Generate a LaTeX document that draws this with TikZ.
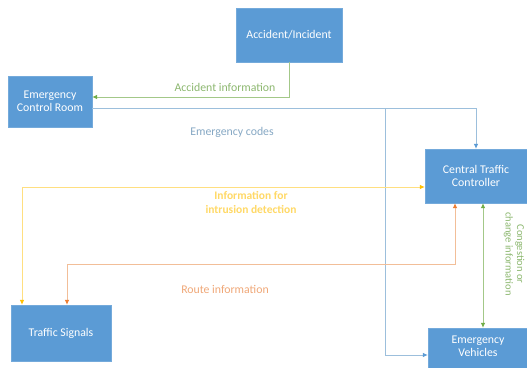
\documentclass[tikz,border=0pt]{standalone}
\usepackage{fontspec}
\setmainfont{Carlito}
\usetikzlibrary{arrows.meta}
\definecolor{boxblue}{HTML}{5B9BD5}
\definecolor{grnline}{HTML}{A3C888}
\definecolor{grntip}{HTML}{70AD47}
\definecolor{grntext}{HTML}{8DB870}
\definecolor{bluline}{HTML}{9CBFDC}
\definecolor{blutip}{HTML}{5B9BD5}
\definecolor{blutext}{HTML}{86A8C4}
\definecolor{yelline}{HTML}{FFDF80}
\definecolor{yeltip}{HTML}{FFC000}
\definecolor{yeltext}{HTML}{FFD966}
\definecolor{orgline}{HTML}{F2BE98}
\definecolor{orgtip}{HTML}{ED7D31}
\definecolor{orgtext}{HTML}{F0A878}
\tikzset{
  box/.style={fill=boxblue, draw=boxblue!85!white, text=white, align=center,
    font=\fontsize{11.8}{13.5}\selectfont, inner sep=0pt},
  conn/.style={line width=0.8pt},
  lbl/.style={font=\fontsize{11.8}{14}\selectfont, align=center, inner sep=0pt},
}
\begin{document}
\begin{tikzpicture}[x=1pt,y=-1pt]
\useasboundingbox (0,0) rectangle (527,367);
\clip (0,0) rectangle (527,367);
\fill[white] (0,0) rectangle (527,367);
% boxes
\node[box, minimum width=106pt, minimum height=54pt] (acc) at (289,35) {Accident/Incident};
\node[box, minimum width=84pt, minimum height=51pt] (ecr) at (50,101.5) {Emergency\\Control Room};
\node[box, minimum width=102pt, minimum height=54pt] (ctc) at (476,176) {Central Traffic\\Controller};
\node[box, minimum width=100pt, minimum height=56pt] (ts) at (61,333) {Traffic Signals};
\node[box, minimum width=100pt, minimum height=48pt, text depth=12pt] (ev) at (478,352) {Emergency\\Vehicles};
% accident information
\draw[conn, grnline, -{Latex[length=5pt,width=4.5pt,color=grntip]}] (acc.south) |- ([yshift=4.5pt]ecr.east);
\node[lbl, text=grntext] (lacc) at (225,87) {Accident information};
% emergency codes
\coordinate (br) at (385,108);
\draw[conn, bluline, -{Latex[length=5pt,width=4.5pt,color=blutip]}] ([yshift=-6.5pt]ecr.east) -| (ctc.north);
\draw[conn, bluline, -{Latex[length=5pt,width=4.5pt,color=blutip]}] (br) |- ([yshift=-3pt]ev.west);
\node[lbl, text=blutext] (lcodes) at (232,132) {Emergency codes};
% intrusion detection
\draw[conn, yelline, {Latex[length=5pt,width=4.5pt,color=yeltip]}-{Latex[length=5pt,width=4.5pt,color=yeltip]}] ([xshift=-39pt]ts.north) |- ([yshift=-11pt]ctc.west);
\node[lbl, text=yeltext, font=\fontsize{11.5}{14}\selectfont\bfseries] (lintr) at (251,202) {Information for\\intrusion detection};
% route information
\coordinate (ob) at (455,264);
\draw[conn, orgline, {Latex[length=5pt,width=4.5pt,color=orgtip]}-{Latex[length=5pt,width=4.5pt,color=orgtip]}] ([xshift=6pt]ts.north) |- (ob) -- ([xshift=-21pt]ctc.south);
\node[lbl, text=orgtext] (lroute) at (225,289) {Route information};
% congestion / change information
\draw[conn, grnline, {Latex[length=5pt,width=4.5pt,color=grntip]}-{Latex[length=5pt,width=4.5pt,color=grntip]}] ([xshift=7pt]ctc.south) -- ([xshift=5pt]ev.north);
\node[lbl, text=grntext, rotate=-90, font=\fontsize{10.5}{11.5}\selectfont] (lchg) at (514,254) {Congestion or\\change information};
\end{tikzpicture}
\end{document}
